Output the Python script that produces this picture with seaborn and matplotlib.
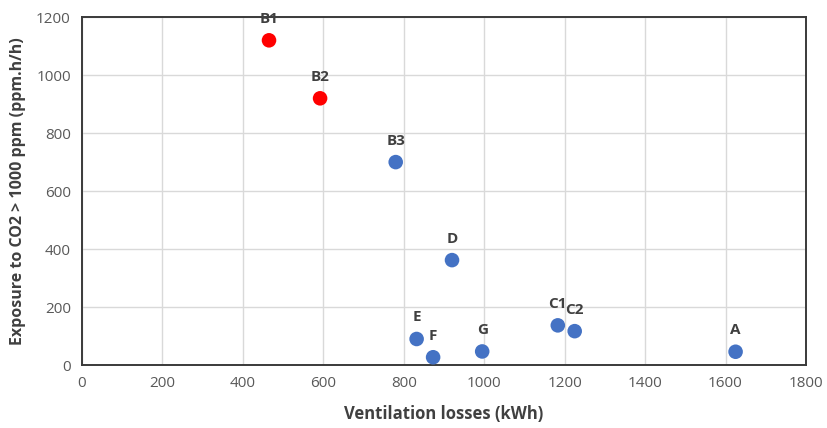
import matplotlib
matplotlib.use("Agg")
import matplotlib.pyplot as plt
import seaborn as sns
import pandas as pd

# values
cases = ['B1', 'B2', 'B3', 'D', 'E', 'F', 'G', 'C1', 'C2', 'A']
vent_losses = [465, 592, 780, 920, 832, 873, 995, 1183, 1225, 1625]
exposure = [1120, 920, 700, 362, 90, 27, 47, 137, 117, 46]
group = ['red', 'red', 'blue', 'blue', 'blue', 'blue', 'blue', 'blue', 'blue', 'blue']

x_ticks = [0, 200, 400, 600, 800, 1000, 1200, 1400, 1600, 1800]
y_ticks = [0, 200, 400, 600, 800, 1000, 1200]

df = pd.DataFrame({'case': cases, 'x': vent_losses, 'y': exposure, 'group': group})

sns.set_style("whitegrid")
plt.rcParams['font.family'] = ['Open Sans', 'DejaVu Sans']

fig = plt.figure(figsize=(8.28, 4.28), dpi=100)
ax = fig.add_axes([0.099, 0.147, 0.8744, 0.813])

sns.scatterplot(data=df, x='x', y='y', hue='group',
                palette={'red': '#FF0000', 'blue': '#4472C4'},
                s=110, edgecolor='none', legend=False, ax=ax, zorder=3)

for _, row in df.iterrows():
    ax.annotate(row['case'], (row['x'], row['y']), xytext=(0, 15.5),
                textcoords='offset points', ha='center', va='center',
                fontsize=11, fontweight='bold', color='#404040')

ax.set_xlim(0, 1800)
ax.set_ylim(0, 1200)
ax.set_xticks(x_ticks)
ax.set_yticks(y_ticks)
ax.tick_params(axis='both', length=0, labelsize=11, labelcolor='#595959', pad=8)
ax.grid(True, color='#d9d9d9', linewidth=1)

for sp in ax.spines.values():
    sp.set_color('#3a3a3a')
    sp.set_linewidth(1.4)

ax.set_xlabel('Ventilation losses (kWh)', fontsize=12, fontweight='bold',
              color='#404040', labelpad=10)
ax.set_ylabel('Exposure to CO2 > 1000 ppm (ppm.h/h)', fontsize=11.5,
              fontweight='bold', color='#404040', labelpad=7)

fig.savefig('out.png', dpi=100)
